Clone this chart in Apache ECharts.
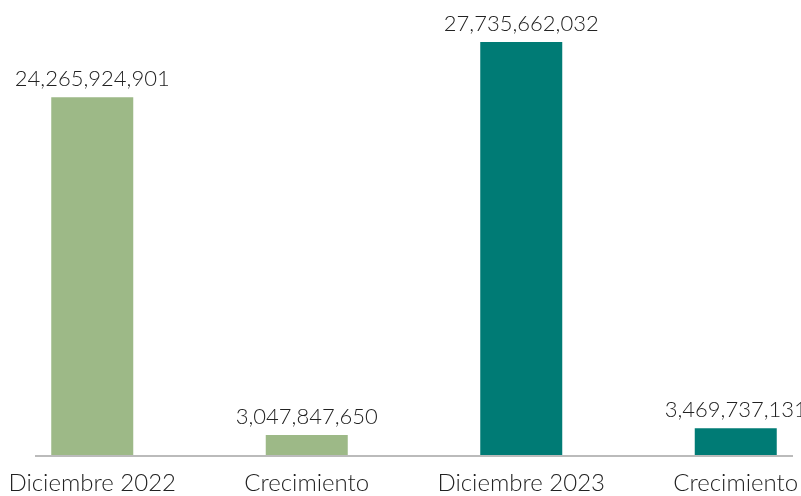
<!DOCTYPE html>
<html>
<head>
<meta charset="utf-8">
<script src="https://cdn.jsdelivr.net/npm/echarts@6/dist/echarts.min.js"></script>
<style>
html,body{margin:0;padding:0;background:#fff;}
#chart{width:801px;height:496px;}
</style>
</head>
<body>
<div id="chart"></div>
<script>
const categories = ['Diciembre 2022', 'Crecimiento', 'Diciembre 2023', 'Crecimiento'];
const values = [24265924901, 3047847650, 27735662032, 3469737131];
const barColors = ['#9db987', '#9db987', '#007b75', '#007b75'];

const chart = echarts.init(document.getElementById('chart'), null, {renderer: 'canvas'});
const fmt = v => v.toLocaleString('en-US');
chart.setOption({
  animation: false,
  backgroundColor: '#ffffff',
  grid: {left: -15, right: -42, top: 0, bottom: 41, outerBoundsMode: 'none', containLabel: false},
  xAxis: {
    type: 'category',
    data: categories,
    axisLine: {show: false},
    axisTick: {show: false},
    axisLabel: {
      color: '#222222',
      fontFamily: 'Lato',
      fontWeight: 300,
      fontSize: 24,
      margin: 16,
      interval: 0
    }
  },
  yAxis: {
    type: 'value',
    min: 1.79e9,
    max: 30.37e9,
    show: false,
    splitLine: {show: false}
  },
  series: [{
    type: 'bar',
    barWidth: 82,
    data: values.map((v, i) => ({value: v, itemStyle: {color: barColors[i]}})),
    label: {
      show: true,
      position: 'top',
      distance: 7,
      color: '#222222',
      fontFamily: 'Lato',
      fontWeight: 300,
      fontSize: 22,
      formatter: p => fmt(p.value)
    }
  }],
  graphic: [{
    type: 'line',
    shape: {x1: 35, y1: 456, x2: 793, y2: 456},
    style: {stroke: '#bbbbbb', lineWidth: 2},
    z: 100
  }]
});
</script>
</body>
</html>
